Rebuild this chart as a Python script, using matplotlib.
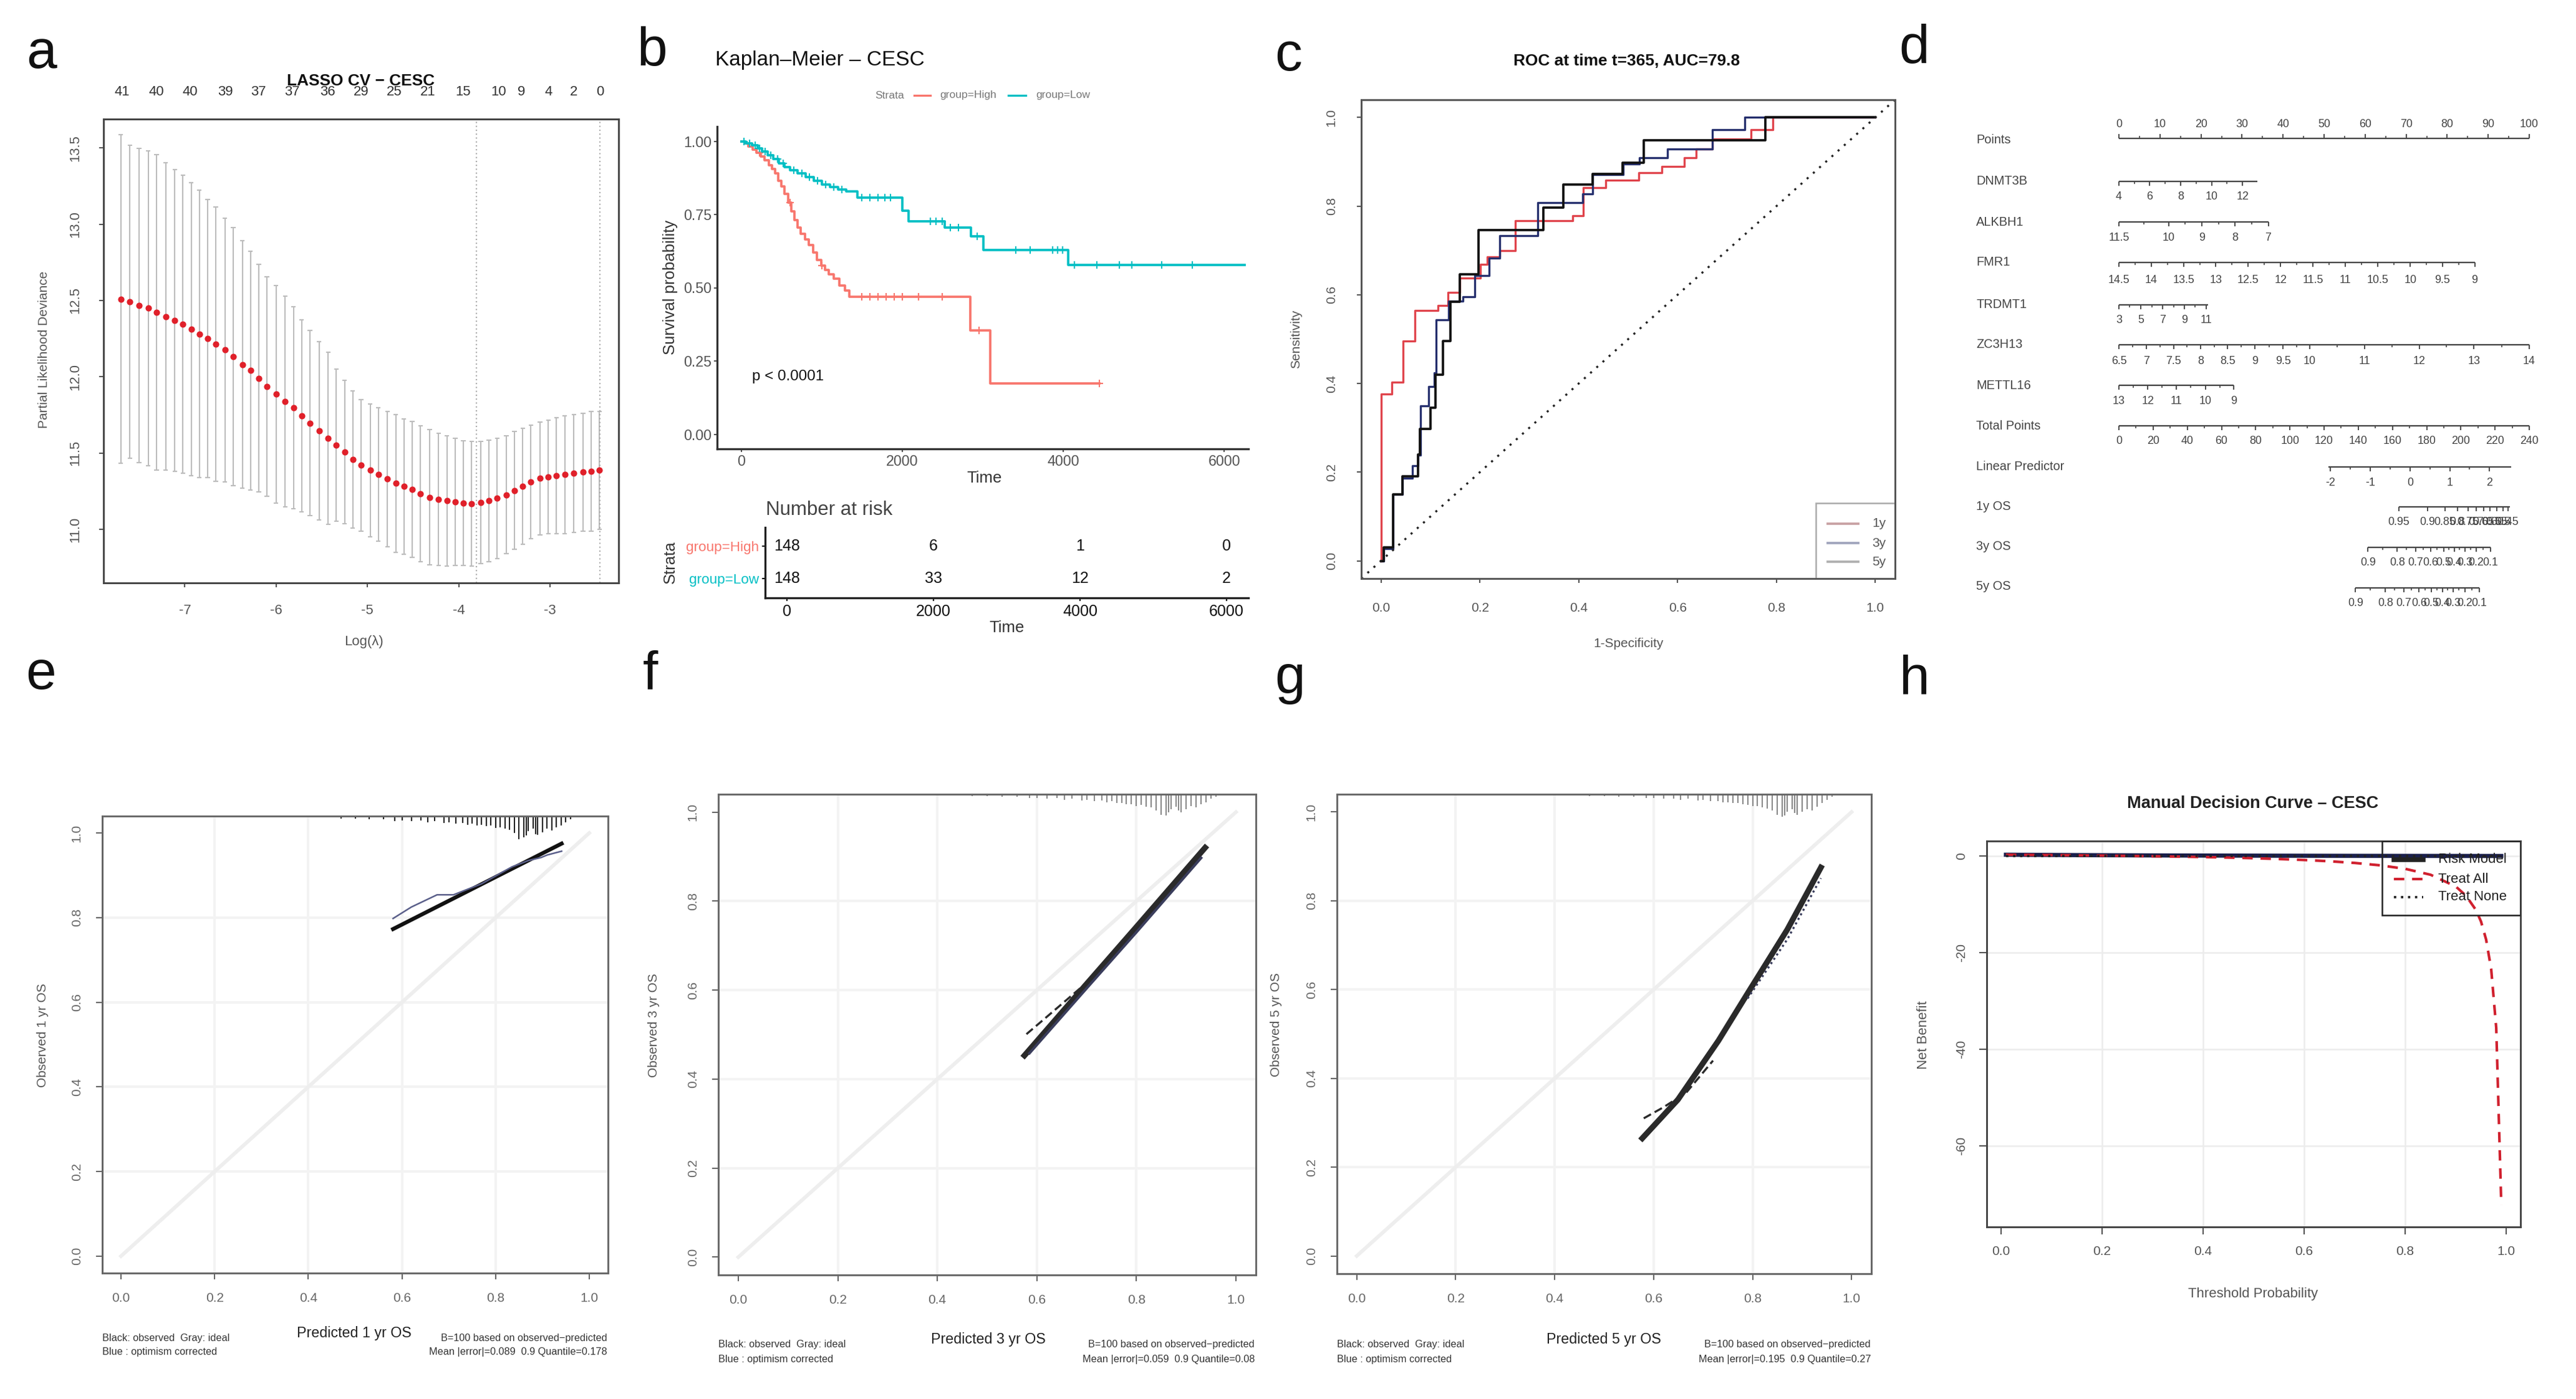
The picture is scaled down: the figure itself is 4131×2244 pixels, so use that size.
import numpy as np
import matplotlib
matplotlib.use("Agg")
import matplotlib.pyplot as plt
from matplotlib.lines import Line2D
from matplotlib.patches import Rectangle

plt.rcParams['font.family'] = ['Liberation Sans', 'DejaVu Sans']
plt.rcParams['axes.unicode_minus'] = False

###-----------------data------------------###
# a: LASSO cross-validation
lasso_loglam = [-7.70, -7.60, -7.50, -7.40, -7.31, -7.21, -7.11, -7.02, -6.93, -6.84,
                -6.75, -6.66, -6.56, -6.47, -6.37, -6.28, -6.19, -6.10, -6.00, -5.90,
                -5.81, -5.72, -5.63, -5.53, -5.43, -5.34, -5.25, -5.16, -5.07, -4.97,
                -4.88, -4.78, -4.69, -4.60, -4.51, -4.42, -4.32, -4.22, -4.13, -4.04,
                -3.95, -3.86, -3.76, -3.67, -3.58, -3.48, -3.39, -3.30, -3.21, -3.11,
                -3.02, -2.93, -2.84, -2.74, -2.64, -2.55, -2.46]
lasso_dev = [12.508, 12.49, 12.466, 12.45, 12.42, 12.395, 12.37, 12.344, 12.31, 12.28,
             12.25, 12.215, 12.175, 12.13, 12.08, 12.04, 11.99, 11.935, 11.885, 11.837,
             11.795, 11.744, 11.696, 11.645, 11.598, 11.55, 11.507, 11.457, 11.42, 11.386,
             11.358, 11.33, 11.30, 11.28, 11.26, 11.231, 11.21, 11.197, 11.186, 11.18,
             11.172, 11.166, 11.175, 11.186, 11.203, 11.226, 11.254, 11.28, 11.31, 11.333,
             11.344, 11.352, 11.358, 11.366, 11.375, 11.38, 11.386]
lasso_se = [1.077, 1.026, 1.029, 1.032, 1.034, 1.006, 0.989, 0.978, 0.961, 0.941,
            0.913, 0.899, 0.865, 0.846, 0.812, 0.781, 0.747, 0.719, 0.713, 0.691,
            0.662, 0.629, 0.606, 0.586, 0.564, 0.499, 0.471, 0.451, 0.431, 0.437,
            0.437, 0.443, 0.451, 0.443, 0.445, 0.445, 0.443, 0.434, 0.426, 0.417,
            0.409, 0.409, 0.400, 0.397, 0.395, 0.386, 0.386, 0.380, 0.372, 0.369,
            0.372, 0.380, 0.386, 0.386, 0.386, 0.392, 0.386]
lasso_top_pos = [-7.686, -7.311, -6.945, -6.557, -6.191, -5.825, -5.437, -5.071,
                 -4.705, -4.339, -3.951, -3.562, -3.311, -3.014, -2.739, -2.456]
lasso_top_lab = ['41', '40', '40', '39', '37', '37', '36', '29', '25', '21', '15', '10', '9', '4', '2', '0']
lambda_min, lambda_1se = -3.81, -2.456

# b: Kaplan-Meier
high_times = [40, 90, 140, 190, 240, 290, 340, 380, 420, 460, 500, 540, 580, 620, 660,
              700, 740, 790, 840, 890, 940, 990, 1040, 1090, 1150, 1220, 1290, 1345, 2846, 3093]
high_surv = [.993, .982, .972, .960, .948, .935, .918, .905, .89, .865, .845, .82, .79, .76, .73,
             .705, .685, .665, .645, .62, .595, .575, .56, .545, .53, .507, .49, .47, .354, .174]
high_end = 4450
high_cens = [230, 610, 1000, 1500, 1600, 1700, 1800, 1900, 2000, 2200, 2500, 2950, 4450]
low_times = [60, 130, 200, 260, 330, 400, 470, 540, 610, 700, 800, 900, 1000, 1100, 1200,
             1300, 1446, 2000, 2076, 2529, 2856, 3007, 4065]
low_surv = [.993, .986, .975, .965, .953, .94, .925, .912, .902, .89, .878, .865, .852, .844, .836,
            .829, .807, .763, .727, .705, .675, .629, .577]
low_end = 6250
low_cens = [30, 100, 170, 230, 300, 370, 450, 520, 650, 750, 850, 950, 1050, 1150, 1250,
            1500, 1600, 1700, 1780, 1850, 2350, 2420, 2500, 2600, 2700, 2930, 3410, 3590,
            3870, 3930, 3990, 4140, 4420, 4700, 4850, 5220, 5600]
risk_times = [0, 2000, 4000, 6000]
risk_high = [148, 6, 1, 0]
risk_low = [148, 33, 12, 2]

# c: time-dependent ROC (step corners)
roc1_fpr = [0, 0, 0.022, 0.045, 0.068, 0.115, 0.136, 0.159, 0.201, 0.215, 0.24, 0.272, 0.388,
            0.409, 0.455, 0.522, 0.568, 0.613, 0.637, 0.67, 0.748, 0.793, 1.0]
roc1_tpr = [0, 0.376, 0.403, 0.496, 0.564, 0.576, 0.606, 0.638, 0.669, 0.685, 0.70, 0.767, 0.779,
            0.842, 0.858, 0.876, 0.890, 0.909, 0.929, 0.951, 0.972, 1.0, 1.0]
roc3_fpr = [0, 0.006, 0.024, 0.043, 0.063, 0.075, 0.08, 0.096, 0.108, 0.111, 0.137, 0.166, 0.19,
            0.219, 0.24, 0.317, 0.408, 0.428, 0.49, 0.523, 0.58, 0.67, 0.736, 1.0]
roc3_tpr = [0, 0.027, 0.15, 0.186, 0.215, 0.239, 0.35, 0.393, 0.424, 0.543, 0.586, 0.596, 0.644,
            0.683, 0.733, 0.808, 0.827, 0.871, 0.895, 0.909, 0.929, 0.972, 1.0, 1.0]
roc5_fpr = [0, 0.006, 0.024, 0.043, 0.075, 0.078, 0.1, 0.11, 0.125, 0.14, 0.159, 0.197, 0.329,
            0.369, 0.428, 0.489, 0.531, 0.777, 1.0]
roc5_tpr = [0, 0.03, 0.15, 0.19, 0.24, 0.297, 0.345, 0.42, 0.496, 0.585, 0.646, 0.746, 0.797,
            0.849, 0.873, 0.898, 0.948, 1.0, 1.0]
roc_labels = ['1y', '3y', '5y']

# d: nomogram (values and their positions on the Points scale)
pts_vals = [0, 10, 20, 30, 40, 50, 60, 70, 80, 90, 100]
nomo_names = ['DNMT3B', 'ALKBH1', 'FMR1', 'TRDMT1', 'ZC3H13', 'METTL16']
nomo_labels = [
    ['4', '6', '8', '10', '12'],
    ['11.5', '10', '9', '8', '7'],
    ['14.5', '14', '13.5', '13', '12.5', '12', '11.5', '11', '10.5', '10', '9.5', '9'],
    ['3', '5', '7', '9', '11'],
    ['6.5', '7', '7.5', '8', '8.5', '9', '9.5', '10', '11', '12', '13', '14'],
    ['13', '12', '11', '10', '9'],
]
nomo_points = [
    [0, 7.5, 15.0, 22.6, 30.1],
    [0, 12.1, 20.2, 28.3, 36.4],
    [0, 7.9, 15.8, 23.6, 31.5, 39.4, 47.3, 55.2, 63.1, 71.0, 78.8, 86.7],
    [0, 5.3, 10.7, 15.9, 21.2],
    [0, 6.75, 13.3, 19.9, 26.5, 33.2, 40.0, 46.5, 59.9, 73.2, 86.5, 100],
    [0, 7.0, 14.0, 21.1, 28.0],
]
nomo_line_end = [33.7, 36.4, 86.7, 21.8, 100, 28.0]
total_vals = [0, 20, 40, 60, 80, 100, 120, 140, 160, 180, 200, 220, 240]
lp_labels = ['-2', '-1', '0', '1', '2']
lp_total = [123.75, 147.0, 170.25, 193.5, 216.75]
lp_range = [122.5, 229.25]
os1_labels = ['0.95', '0.9', '0.85', '0.8', '0.75', '0.7', '0.65', '0.6', '0.55', '0.5', '0.45']
os1_total = [163.6, 180.4, 190.6, 198.0, 204.2, 208.9, 213.3, 216.9, 220.9, 224.5, 227.5]
os3_labels = ['0.9', '0.8', '0.7', '0.6', '0.5', '0.4', '0.3', '0.2', '0.1']
os3_total = [145.6, 162.8, 173.5, 182.2, 189.9, 196.1, 202.3, 208.9, 217.3]
os5_labels = ['0.9', '0.8', '0.7', '0.6', '0.5', '0.4', '0.3', '0.2', '0.1']
os5_total = [138.3, 155.9, 166.5, 175.6, 182.6, 189.2, 195.4, 202.3, 210.8]

# e-g: calibration curves
rug_x = [0.47, 0.50, 0.53, 0.56, 0.585, 0.60, 0.62, 0.64, 0.655, 0.67, 0.69, 0.70, 0.715,
         0.73, 0.74, 0.75, 0.76, 0.77, 0.78, 0.79, 0.80, 0.81, 0.82, 0.83, 0.84, 0.85, 0.86,
         0.865, 0.87, 0.88, 0.885, 0.89, 0.90, 0.91, 0.92, 0.93, 0.94, 0.95, 0.96]
rug_len_1y = [0.006, 0.006, 0.008, 0.008, 0.012, 0.010, 0.012, 0.010, 0.014, 0.012, 0.016, 0.014, 0.018,
              0.016, 0.020, 0.018, 0.022, 0.020, 0.024, 0.022, 0.028, 0.026, 0.030, 0.032, 0.040, 0.055, 0.050,
              0.045, 0.035, 0.030, 0.042, 0.044, 0.038, 0.030, 0.034, 0.026, 0.022, 0.014, 0.008]
rug_len_3y = [0.004, 0.004, 0.006, 0.006, 0.008, 0.008, 0.010, 0.008, 0.012, 0.010, 0.014, 0.012, 0.016,
              0.014, 0.018, 0.016, 0.020, 0.020, 0.022, 0.022, 0.026, 0.024, 0.028, 0.030, 0.036, 0.046, 0.048,
              0.040, 0.034, 0.028, 0.036, 0.040, 0.034, 0.026, 0.030, 0.022, 0.018, 0.010, 0.006]
rug_len_5y = [0.004, 0.004, 0.006, 0.006, 0.008, 0.008, 0.010, 0.010, 0.012, 0.010, 0.014, 0.012, 0.016,
              0.016, 0.018, 0.018, 0.020, 0.020, 0.022, 0.024, 0.026, 0.026, 0.030, 0.032, 0.036, 0.046, 0.050,
              0.048, 0.040, 0.034, 0.042, 0.046, 0.040, 0.034, 0.036, 0.028, 0.020, 0.012, 0.006]
cal1_obs_x, cal1_obs_y = [0.581, 0.941], [0.773, 0.975]
cal1_cor_x = [0.581, 0.62, 0.675, 0.71, 0.77, 0.835, 0.87, 0.897, 0.91, 0.941]
cal1_cor_y = [0.798, 0.825, 0.854, 0.854, 0.88, 0.92, 0.935, 0.942, 0.948, 0.957]
cal3_obs_x, cal3_obs_y = [0.575, 0.70, 0.80, 0.938], [0.453, 0.614, 0.742, 0.920]
cal3_cor_x, cal3_cor_y = [0.585, 0.70, 0.80, 0.93], [0.458, 0.604, 0.730, 0.897]
cal3_dash_x, cal3_dash_y = [0.579, 0.62, 0.69, 0.72], [0.501, 0.54, 0.607, 0.64]
cal5_obs_x = [0.577, 0.649, 0.731, 0.793, 0.870, 0.938]
cal5_obs_y = [0.265, 0.352, 0.485, 0.597, 0.735, 0.875]
cal5_dash_x, cal5_dash_y = [0.58, 0.62, 0.666, 0.72], [0.31, 0.335, 0.368, 0.44]
cal5_dot_x, cal5_dot_y = [0.79, 0.87, 0.938], [0.58, 0.713, 0.851]
cal_err = ['Mean |error|=0.089  0.9 Quantile=0.178',
           'Mean |error|=0.059  0.9 Quantile=0.08',
           'Mean |error|=0.195  0.9 Quantile=0.27']

# h: decision curve
dca_thr = [0.01, 0.05, 0.10, 0.15, 0.20, 0.25, 0.30, 0.35, 0.40, 0.45, 0.50, 0.55, 0.60,
           0.65, 0.70, 0.75, 0.80, 0.85, 0.90, 0.92, 0.94, 0.95, 0.96, 0.97, 0.98, 0.99]
dca_model = [0.26, 0.24, 0.21, 0.18, 0.16, 0.14, 0.12, 0.10, 0.09, 0.08, 0.07, 0.06, 0.05,
             0.04, 0.03, 0.025, 0.02, 0.015, 0.01, 0.008, 0.006, 0.005, 0.004, 0.003, 0.002, 0.001]
dca_all = [0.26, 0.23, 0.19, 0.14, 0.085, 0.024, -0.05, -0.13, -0.22, -0.33, -0.46, -0.63, -0.83,
           -1.09, -1.44, -1.93, -2.66, -3.88, -6.32, -8.2, -11.2, -13.6, -17.3, -23.4, -35.6, -72.2]
dca_none = [0.0] * len(dca_thr)

###-----------------figure------------------###
W, H = 4131, 2244
fig = plt.figure(figsize=(W / 300, H / 300), dpi=300)
TXT = '#333333'


def px_axes(l, t, r, b):
    return fig.add_axes([l / W, 1 - b / H, (r - l) / W, (b - t) / H])


def ftext(x, y, s, **kw):
    kw.setdefault('color', TXT)
    fig.text(x / W, 1 - y / H, s, **kw)


def fline(x1, x2, y, **kw):
    fig.add_artist(Line2D([x1 / W, x2 / W], [1 - y / H, 1 - y / H], transform=fig.transFigure, **kw))


def r_box(ax, color='#444444'):
    for sp in ax.spines.values():
        sp.set_color(color)
        sp.set_linewidth(0.7)


for lab, x, y in [('a', 67, 86), ('b', 1046, 83), ('c', 2066, 90), ('d', 3070, 79),
                  ('e', 66, 1083), ('f', 1043, 1083), ('g', 2069, 1090), ('h', 3070, 1090)]:
    ftext(x, y, lab, fontsize=21, ha='center', va='center', color='#111111')

###--------------a: LASSO------------------###
ax = px_axes(166, 191, 992, 935)
ll = np.array(lasso_loglam)
dv = np.array(lasso_dev)
se = np.array(lasso_se)
EB = '#bcbcbc'
ax.vlines(ll, dv - se, dv + se, color=EB, lw=0.5)
ax.hlines(dv - se, ll - 0.025, ll + 0.025, color=EB, lw=0.5)
ax.hlines(dv + se, ll - 0.025, ll + 0.025, color=EB, lw=0.5)
ax.scatter(ll, dv, s=6, color='#e0202a', linewidths=0, zorder=3)
for v in (lambda_min, lambda_1se):
    ax.axvline(v, color='#aaaaaa', lw=0.5, ls=(0, (1, 2)))
ax.set_xlim(-7.89, -2.25)
ax.set_ylim(10.648, 13.689)
ax.set_xticks([-7, -6, -5, -4, -3])
ax.set_yticks([11.0, 11.5, 12.0, 12.5, 13.0, 13.5])
ax.set_yticklabels(['11.0', '11.5', '12.0', '12.5', '13.0', '13.5'], rotation=90, va='center')
ax.tick_params(direction='out', length=1.7, width=0.5, labelsize=5.3, pad=6.5, colors='#555555')
r_box(ax)
for p, s in zip(lasso_top_pos, lasso_top_lab):
    ax.text(p, 1.058, s, transform=ax.get_xaxis_transform(), ha='center', va='center',
            fontsize=5.3, color=TXT)
ax.text(0.5, 1.082, 'LASSO CV − CESC', transform=ax.transAxes, ha='center', va='center',
        fontsize=6.3, fontweight='bold', color='#111111')
ftext(583, 1030, 'Log(λ)', fontsize=5.3, ha='center', va='center', color='#555555')
ftext(70, 561, 'Partial Likelihood Deviance', fontsize=5.0, ha='center', va='center', rotation=90,
      color='#555555')

###--------------b: Kaplan-Meier------------------###
RED, TEAL = '#F8766D', '#00BFC4'


def surv_at(times, surv, t):
    idx = np.searchsorted(times, t, side='right') - 1
    return np.where(idx < 0, 1.0, np.array(surv)[np.clip(idx, 0, None)])


axb = px_axes(1150, 203, 2002, 720)
for times, surv, end, cens, col in [(high_times, high_surv, high_end, high_cens, RED),
                                     (low_times, low_surv, low_end, low_cens, TEAL)]:
    tt = [0] + times + [end]
    ss = [1.0] + surv + [surv[-1]]
    axb.step(tt, ss, where='post', color=col, lw=0.9)
    axb.plot(cens, surv_at(times, surv, np.array(cens)), ls='none', marker='+', ms=3,
             mew=0.5, color=col)
axb.set_xlim(-300, 6300)
axb.set_ylim(-0.05, 1.05)
axb.set_xticks([0, 2000, 4000, 6000])
axb.set_yticks([0, 0.25, 0.5, 0.75, 1.0])
axb.set_yticklabels(['0.00', '0.25', '0.50', '0.75', '1.00'])
axb.tick_params(direction='out', length=1.2, width=0.5, labelsize=5.6, pad=1.0, colors='#555555')
for k in ('top', 'right'):
    axb.spines[k].set_visible(False)
for k in ('left', 'bottom'):
    axb.spines[k].set_color('#333333')
    axb.spines[k].set_linewidth(0.8)
axb.text(136, 0.196, 'p < 0.0001', fontsize=5.8, va='center', color='#111111')
ftext(1147, 96, 'Kaplan–Meier – CESC', fontsize=8, va='center', color='#111111')
ftext(1579, 767, 'Time', fontsize=6.2, ha='center', va='center')
ftext(1075, 461, 'Survival probability', fontsize=6.2, ha='center', va='center', rotation=90)
# legend strip
ftext(1427, 153, 'Strata', fontsize=4.2, ha='center', va='center', color='#777777')
fline(1466, 1492, 153, color=RED, lw=0.8)
ftext(1507, 153, 'group=High', fontsize=4.2, va='center', color='#777777')
fline(1617, 1645, 153, color=TEAL, lw=0.8)
ftext(1661, 153, 'group=Low', fontsize=4.2, va='center', color='#777777')

# risk table
axr = px_axes(1227, 846, 2002, 959)
for row, vals in [(2, risk_high), (1, risk_low)]:
    for t, n in zip(risk_times, vals):
        axr.text(t, row, str(n), ha='center', va='center', fontsize=6, color='#111111')
axr.set_xlim(-300, 6300)
axr.set_ylim(0.404, 2.577)
axr.set_xticks(risk_times)
axr.set_yticks([2, 1])
axr.set_yticklabels(['group=High', 'group=Low'])
for tl_, col in zip(axr.get_yticklabels(), [RED, TEAL]):
    tl_.set_color(col)
axr.tick_params(axis='y', direction='out', length=1.2, width=0.5, labelsize=5.4, pad=1.2)
axr.tick_params(axis='x', direction='out', length=1.2, width=0.5, labelsize=6, pad=1.2,
                labelcolor='#111111')
for k in ('top', 'right'):
    axr.spines[k].set_visible(False)
for k in ('left', 'bottom'):
    axr.spines[k].set_color('#222222')
    axr.spines[k].set_linewidth(0.8)
ftext(1228, 818, 'Number at risk', fontsize=7.5, va='center', color='#444444')
ftext(1615, 1007, 'Time', fontsize=6.2, ha='center', va='center')
ftext(1075, 902, 'Strata', fontsize=6.2, ha='center', va='center', rotation=90)

###--------------c: ROC------------------###
axc = px_axes(2183, 160, 3039, 928)
axc.step(roc1_fpr, roc1_tpr, where='post', color='#e0444c', lw=0.8)
axc.step(roc3_fpr, roc3_tpr, where='post', color='#26306e', lw=0.8)
axc.step(roc5_fpr, roc5_tpr, where='post', color='#111111', lw=0.9)
axc.axline((0, 0), (1, 1), color='#222222', lw=0.8, ls=(0, (1, 3)))
axc.set_xlim(-0.04, 1.04)
axc.set_ylim(-0.04, 1.04)
ticks = [0, 0.2, 0.4, 0.6, 0.8, 1.0]
tl = ['0.0', '0.2', '0.4', '0.6', '0.8', '1.0']
axc.set_xticks(ticks)
axc.set_xticklabels(tl)
axc.set_yticks(ticks)
axc.set_yticklabels(tl, rotation=90, va='center')
axc.tick_params(direction='out', length=1.7, width=0.5, labelsize=5.0, pad=7.5, colors='#555555')
r_box(axc, '#555555')
axc.add_patch(Rectangle((0.852, 0.0), 0.148, 0.158, transform=axc.transAxes, fill=False,
                        ec='#aaaaaa', lw=0.6))
for yy, lab, col in zip([0.115, 0.074, 0.035], roc_labels, ['#c8a0a2', '#a0a4bc', '#b0b0b0']):
    axc.plot([0.874, 0.931], [yy, yy], transform=axc.transAxes, color=col, lw=0.9)
    axc.text(0.957, yy, lab, transform=axc.transAxes, fontsize=5.0, va='center', color='#555555')
ftext(2609, 98, 'ROC at time t=365, AUC=79.8', fontsize=6.3, fontweight='bold', ha='center',
      va='center', color='#111111')
ftext(2612, 1033, '1-Specificity', fontsize=5.0, ha='center', va='center', color='#555555')
ftext(2079, 544, 'Sensitivity', fontsize=5.0, ha='center', va='center', rotation=90, color='#555555')

###--------------d: nomogram------------------###
axd = px_axes(3150, 170, 4110, 1000)
axd.set_xlim(-37.69, 108.2)
axd.set_ylim(1000, 170)
axd.axis('off')
NC = '#444444'
tp2pt = 100 / 240


def nomo_row(name, name_y, line_y, pos, labels, lab_y, start, end, up=False, minor=True):
    pos = np.array(pos, dtype=float)
    sgn = -1 if up else 1
    axd.plot([start, end], [line_y, line_y], color=NC, lw=0.55, solid_capstyle='butt')
    axd.vlines(pos, line_y, line_y + sgn * 7, color=NC, lw=0.45)
    if minor and len(pos) > 1:
        mids = (pos[:-1] + pos[1:]) / 2
        axd.vlines(mids, line_y, line_y + sgn * 4, color=NC, lw=0.4)
    for p, s in zip(pos, labels):
        axd.text(p, lab_y, s, ha='center', va='center', fontsize=4.3, color=NC)
    ftext(3169, name_y, name, fontsize=4.8, va='center', color=NC)


nomo_row('Points', 225, 222, pts_vals, [str(v) for v in pts_vals], 200, 0, 100, up=True)
row_y = [(291, 291, 315), (356, 356, 381), (421, 421, 449), (488, 489, 513),
         (553, 553, 579), (618, 618, 644)]
for name, labs, pos, end, (ny, ly, ty) in zip(nomo_names, nomo_labels, nomo_points,
                                              nomo_line_end, row_y):
    nomo_row(name, ny, ly, pos, labs, ty, pos[0], end)
nomo_row('Total Points', 683, 683, np.array(total_vals) * tp2pt, [str(v) for v in total_vals],
         708, 0, 240 * tp2pt)
nomo_row('Linear Predictor', 749, 749, np.array(lp_total) * tp2pt, lp_labels, 775,
         lp_range[0] * tp2pt, lp_range[1] * tp2pt)
nomo_row('1y OS', 813, 813, np.array(os1_total) * tp2pt, os1_labels, 838,
         os1_total[0] * tp2pt, (os1_total[-1] + 1) * tp2pt, minor=False)
nomo_row('3y OS', 877, 878, np.array(os3_total) * tp2pt, os3_labels, 903,
         os3_total[0] * tp2pt, os3_total[-1] * tp2pt)
nomo_row('5y OS', 940, 943, np.array(os5_total) * tp2pt, os5_labels, 968,
         os5_total[0] * tp2pt, os5_total[-1] * tp2pt)

###--------------e-g: calibration------------------###


def calib_panel(box, rug_len, rug_col, curves, xlab, xlab_xy, ylab, ylab_x, left_x, right_x, err):
    axk = px_axes(*box)
    for g in [0.2, 0.4, 0.6, 0.8]:
        axk.axvline(g, color='#f3f3f3', lw=1.0, zorder=0)
        axk.axhline(g, color='#f3f3f3', lw=1.0, zorder=0)
    axk.plot([0, 1], [0, 1], color='#eeeeee', lw=1.4, zorder=1)
    top = 1.04
    axk.vlines(rug_x, top - np.array(rug_len), top, color=rug_col, lw=0.5, zorder=2)
    for xs, ys, kw in curves:
        axk.plot(xs, ys, zorder=3, **kw)
    axk.set_xlim(-0.04, 1.04)
    axk.set_ylim(-0.04, 1.04)
    axk.set_xticks(ticks)
    axk.set_xticklabels(tl)
    axk.set_yticks(ticks)
    axk.set_yticklabels(tl, rotation=90, va='center')
    axk.tick_params(direction='out', length=2.5, width=0.5, labelsize=5.0, pad=5.0,
                    colors='#666666')
    r_box(axk, '#666666')
    ftext(xlab_xy[0], xlab_xy[1], xlab, fontsize=5.6, ha='center', va='center', color='#222222')
    ftext(ylab_x, (box[1] + box[3]) / 2 - 15, ylab, fontsize=5.0, ha='center', va='center',
          rotation=90, color='#555555')
    y1, y2 = xlab_xy[1] + 8, xlab_xy[1] + 31
    ftext(left_x, y1, 'Black: observed  Gray: ideal', fontsize=3.9, va='center', color='#333333')
    ftext(left_x, y2, 'Blue : optimism corrected', fontsize=3.9, va='center', color='#333333')
    ftext(right_x, y1, 'B=100 based on observed−predicted', fontsize=3.9, ha='right',
          va='center', color='#333333')
    ftext(right_x, y2, err, fontsize=3.9, ha='right', va='center', color='#333333')
    return axk


calib_panel((164, 1309, 975, 2042), rug_len_1y, '#222222',
            [(cal1_obs_x, cal1_obs_y, dict(color='#111111', lw=1.5)),
             (cal1_cor_x, cal1_cor_y, dict(color='#5a5f8a', lw=0.6))],
            'Predicted 1 yr OS', (568, 2138), 'Observed 1 yr OS', 69, 164, 974, cal_err[0])
calib_panel((1152, 1274, 2014, 2045), rug_len_3y, '#8a8a8a',
            [(cal3_obs_x, cal3_obs_y, dict(color='#2a2a2a', lw=2.2)),
             (cal3_cor_x, cal3_cor_y, dict(color='#3a3d5c', lw=1.0)),
             (cal3_dash_x, cal3_dash_y, dict(color='#2a2a2a', lw=0.8, ls=(0, (4, 2))))],
            'Predicted 3 yr OS', (1585, 2149), 'Observed 3 yr OS', 1049, 1152, 2012, cal_err[1])
calib_panel((2144, 1274, 3001, 2043), rug_len_5y, '#8a8a8a',
            [(cal5_obs_x, cal5_obs_y, dict(color='#2a2a2a', lw=2.2)),
             (cal5_dash_x, cal5_dash_y, dict(color='#2a2a2a', lw=0.8, ls=(0, (4, 2)))),
             (cal5_dot_x, cal5_dot_y, dict(color='#3a3d5c', lw=0.8, ls=(0, (1, 1.5))))],
            'Predicted 5 yr OS', (2572, 2149), 'Observed 5 yr OS', 2046, 2144, 3000, cal_err[2])

###--------------h: decision curve------------------###
axh = px_axes(3186, 1349, 4042, 1968)
for g in [0.2, 0.4, 0.6, 0.8]:
    axh.axvline(g, color='#ececec', lw=0.6, zorder=0)
for g in [0, -20, -40, -60]:
    axh.axhline(g, color='#ececec', lw=0.6, zorder=0)
axh.plot(dca_thr, dca_model, color='#1a1f4d', lw=1.6, zorder=3)
axh.plot(dca_thr, dca_all, color='#d0202e', lw=1.0, ls=(0, (4, 3)), zorder=4)
axh.plot(dca_thr, dca_none, color='#222222', lw=0.9, ls=(0, (1, 2)), zorder=4)
axh.set_xlim(-0.028, 1.028)
axh.set_ylim(-76.8, 3.1)
axh.set_xticks(ticks)
axh.set_xticklabels(tl)
axh.set_yticks([0, -20, -40, -60])
axh.set_yticklabels(['0', '-20', '-40', '-60'], rotation=90, va='center')
axh.tick_params(direction='out', length=2.8, width=0.5, labelsize=5.0, pad=4.5, colors='#555555')
r_box(axh, '#444444')
axh.add_patch(Rectangle((0.741, 0.808), 0.259, 0.192, transform=axh.transAxes, fill=False,
                        ec='#222222', lw=0.6, zorder=5))
for yy, lab, kw in [(0.952, 'Risk Model', dict(color='#222222', lw=1.8)),
                    (0.901, 'Treat All', dict(color='#d0202e', lw=1.0, ls=(0, (4, 3)))),
                    (0.855, 'Treat None', dict(color='#222222', lw=0.9, ls=(0, (1, 2))))]:
    axh.plot([0.763, 0.818], [yy, yy], transform=axh.transAxes, zorder=6, **kw)
    axh.text(0.846, yy, lab, transform=axh.transAxes, fontsize=5.3, va='center',
             color='#222222', zorder=6)
ftext(3613, 1289, 'Manual Decision Curve – CESC', fontsize=6.5, fontweight='bold', ha='center',
      va='center', color='#222222')
ftext(3613, 2076, 'Threshold Probability', fontsize=5.3, ha='center', va='center', color='#555555')
ftext(3084, 1660, 'Net Benefit', fontsize=5.3, ha='center', va='center', rotation=90,
      color='#555555')

plt.savefig('out.png', dpi=300)
plt.close()
